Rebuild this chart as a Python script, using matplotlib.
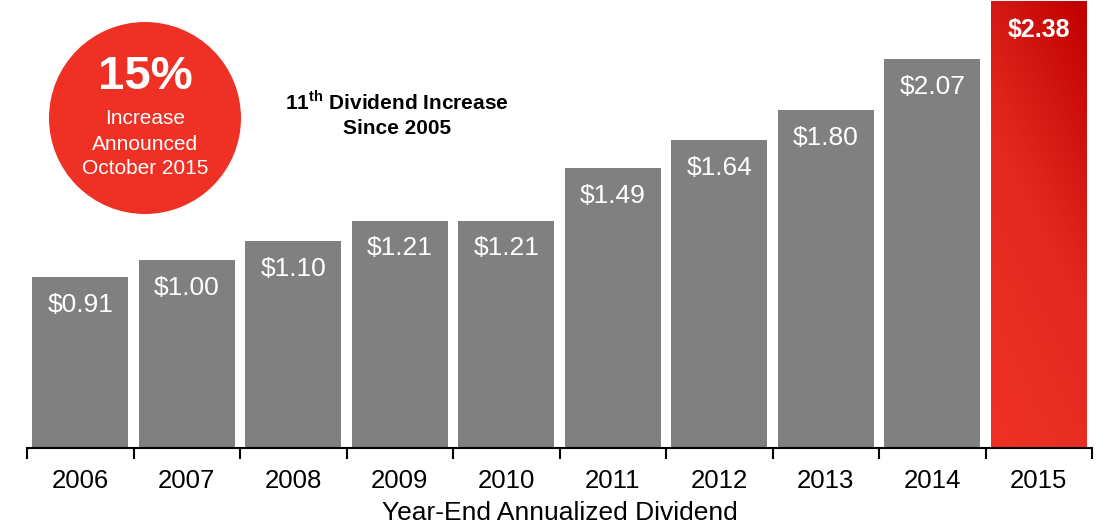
import matplotlib.pyplot as plt
import numpy as np
from matplotlib.patches import Circle
from matplotlib.colors import LinearSegmentedColormap

plt.rcParams['font.family'] = ['Liberation Sans', 'DejaVu Sans']
plt.rcParams['mathtext.fontset'] = 'custom'
plt.rcParams['mathtext.bf'] = 'Liberation Sans:bold'
plt.rcParams['mathtext.rm'] = 'Liberation Sans'

years = ['2006', '2007', '2008', '2009', '2010', '2011', '2012', '2013', '2014', '2015']
dividends = [0.91, 1.00, 1.10, 1.21, 1.21, 1.49, 1.64, 1.80, 2.07, 2.38]
labels = ['$0.91', '$1.00', '$1.10', '$1.21', '$1.21', '$1.49', '$1.64', '$1.80', '$2.07', '$2.38']

fig = plt.figure(figsize=(11.07, 5.28), dpi=100)
ax = fig.add_axes([27 / 1107, 1 - 448 / 528, 1065 / 1107, 448 / 528])

x = np.arange(len(years))
bars = ax.bar(x, dividends, width=0.9, color='#808080', zorder=2)

# last bar gets a red gradient
last = bars[-1]
last.set_facecolor('none')
grad = LinearSegmentedColormap.from_list('red', ['#ee3124', '#e32a20', '#c00000'])
gx, gy = np.meshgrid(np.linspace(0, 1, 100), np.linspace(0, 1, 100))
img = ax.imshow(0.3 * gx + 0.7 * gy, cmap=grad, origin='lower', aspect='auto', zorder=2,
                extent=[x[-1] - 0.45, x[-1] + 0.45, 0, dividends[-1]])
img.set_clip_path(last)

ax.set_xlim(-0.5, len(years) - 0.5)
ax.set_ylim(0, 2.385)

for i, (v, lab) in enumerate(zip(dividends, labels)):
    if i == len(years) - 1:
        ax.annotate(lab, (i, v), xytext=(0, -21), textcoords='offset points',
                    ha='center', va='center', color='white', fontsize=18,
                    fontweight='bold', zorder=3)
    else:
        ax.annotate(lab, (i, v), xytext=(0, -20), textcoords='offset points',
                    ha='center', va='center', color='white', fontsize=19, zorder=3)

for s in ['top', 'right', 'left']:
    ax.spines[s].set_visible(False)
ax.spines['bottom'].set_linewidth(1.5)
ax.set_yticks([])
ax.set_xticks(x)
ax.set_xticklabels(years, fontsize=18.5)
ax.tick_params(axis='x', which='major', length=0, pad=15)
ax.set_xticks(np.arange(-0.5, len(years)), minor=True)
ax.tick_params(axis='x', which='minor', length=8, width=1.5, direction='out')
ax.set_xlabel('Year-End Annualized Dividend', fontsize=19, labelpad=6)

# badge
fig.patches.append(Circle((1.45, 4.10), 0.96, transform=fig.dpi_scale_trans,
                          facecolor='#ee3124', edgecolor='none', zorder=5))
fig.text(145 / 1107, 1 - 77 / 528, '15%', ha='center', va='center', color='white',
         fontsize=34, fontweight='bold', zorder=6)
fig.text(145 / 1107, 1 - 118 / 528, 'Increase', ha='center', va='center', color='white',
         fontsize=15, zorder=6)
fig.text(145 / 1107, 1 - 144 / 528, 'Announced', ha='center', va='center', color='white',
         fontsize=15, zorder=6)
fig.text(145 / 1107, 1 - 169 / 528, 'October 2015', ha='center', va='center', color='white',
         fontsize=15, zorder=6)

fig.text(397 / 1107, 1 - 102 / 528, r'11$^{\mathbf{th}}$ Dividend Increase', ha='center',
         va='center', fontsize=15, fontweight='bold')
fig.text(397 / 1107, 1 - 128 / 528, 'Since 2005', ha='center', va='center',
         fontsize=15, fontweight='bold')

fig.savefig('out.png', dpi=100)
